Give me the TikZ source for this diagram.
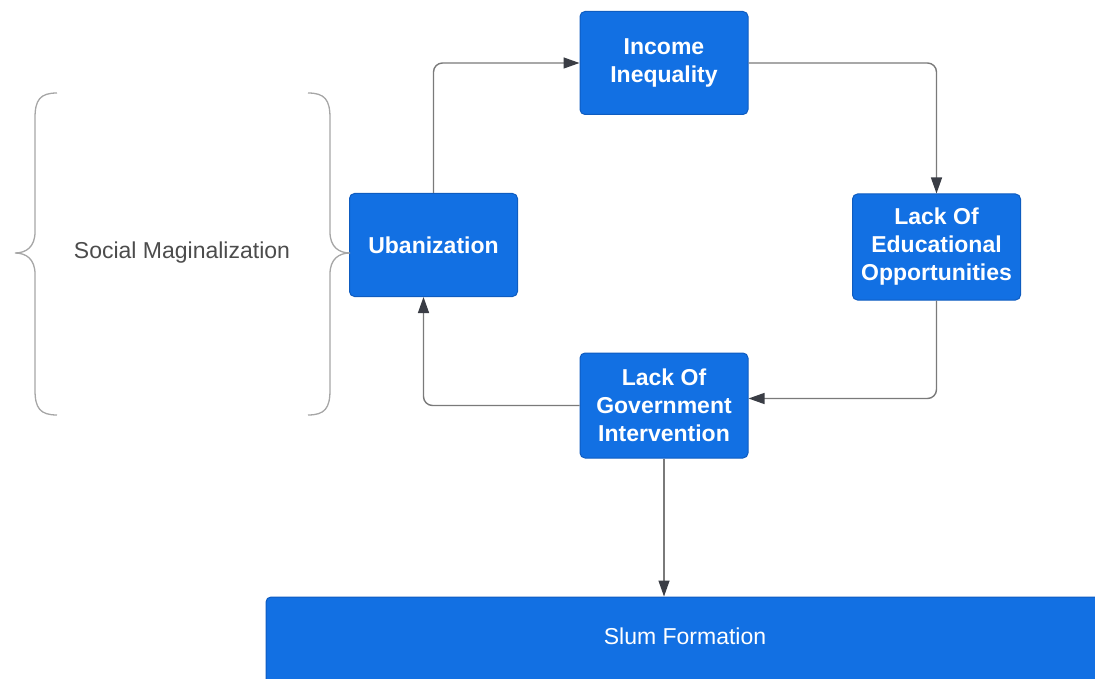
\documentclass[tikz,border=0pt]{standalone}
\usepackage{fontspec}
\setmainfont{Liberation Sans}
\usepackage{xcolor}
\usetikzlibrary{arrows.meta}

\definecolor{boxblue}{HTML}{1270E3}
\definecolor{boxedge}{HTML}{0E5CC0}
\definecolor{linegray}{HTML}{7A7A7A}
\definecolor{tipgray}{HTML}{3A3D45}

\tikzset{
    box/.style={fill=boxblue, draw=boxedge, line width=1pt, rounded corners=5pt,
        text=white, font=\fontsize{23}{28}\selectfont\bfseries, align=center,
        minimum width=168pt, minimum height=103pt, inner sep=0pt},
    link/.style={draw=linegray, line width=1.4pt, rounded corners=9pt,
        -{Triangle[length=16pt, width=11pt, color=tipgray, fill=tipgray]}},
    brace/.style={draw=gray!70, line width=1.3pt}
}

\begin{document}
\begin{tikzpicture}[x=1pt, y=-1pt]
    \useasboundingbox (0,0) rectangle (1095,679);

    \node[box] (inc) at (664,63) {Income\\Inequality};
    \node[box] (urb) at (433.5,245) {Ubanization};
    \node[box, minimum height=106pt] (edu) at (936.5,247) {Lack Of\\Educational\\Opportunities};
    \node[box, minimum height=105pt] (gov) at (664,405.5) {Lack Of\\Government\\Intervention};
    \node[box, minimum width=850pt, minimum height=100pt] (slum) at (691,647) {};
    \node[text=white, font=\fontsize{23}{28}\selectfont] (slumtxt) at (685,636) {Slum Formation};

    \draw[link] (urb.north) |- (inc.west);
    \draw[link] (inc.east) -| (edu.north);
    \draw[link] (edu.south) |- ([yshift=7pt]gov.east);
    \draw[link] (gov.west) -| ([xshift=-10pt]urb.south);
    \draw[link] (gov.south) -- (gov.south |- slum.north);

    \node[text=black!70, font=\fontsize{23}{28}\selectfont] (soc) at (182,253) {Social Maginalization};

    \draw[brace] (57,93) .. controls (40,93) and (35,100) .. (35,118) -- (35,232)
        .. controls (35,247) and (26,253) .. (15,253)
        .. controls (26,253) and (35,259) .. (35,274) -- (35,390)
        .. controls (35,408) and (40,415) .. (57,415);
    \draw[brace] (308,93) .. controls (325,93) and (330,100) .. (330,118) -- (330,232)
        .. controls (330,247) and (339,253) .. (350,253)
        .. controls (339,253) and (330,259) .. (330,274) -- (330,390)
        .. controls (330,408) and (325,415) .. (308,415);
\end{tikzpicture}
\end{document}
